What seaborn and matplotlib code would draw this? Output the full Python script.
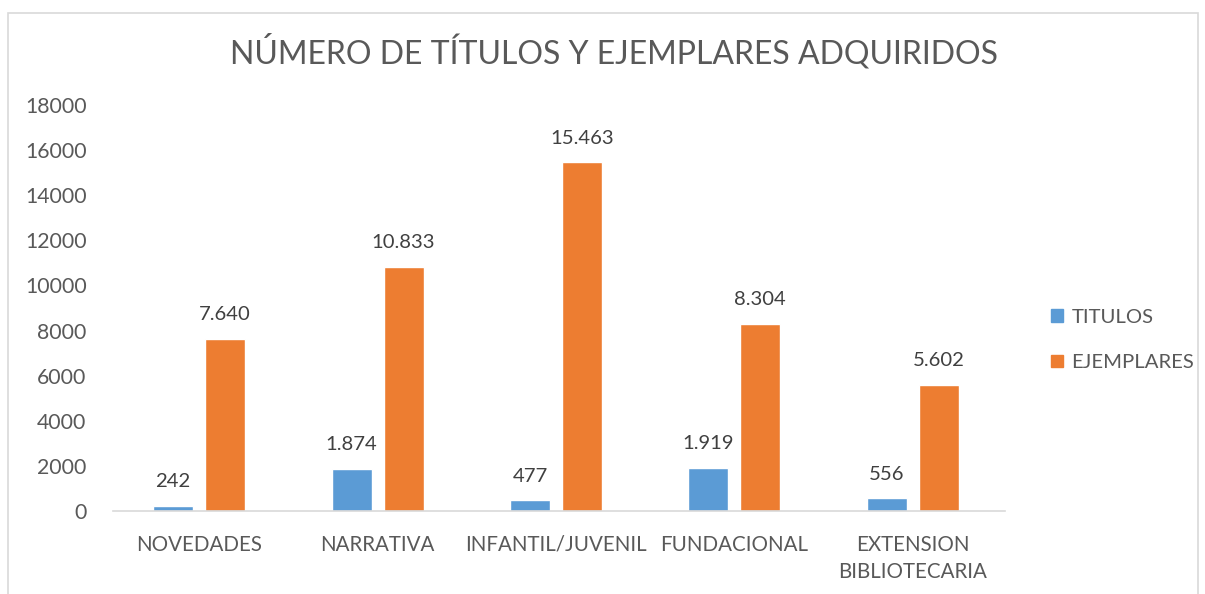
import pandas as pd
import matplotlib.pyplot as plt
import seaborn as sns
from matplotlib.patches import Rectangle, Patch

categorias = ["NOVEDADES", "NARRATIVA", "INFANTIL/JUVENIL", "FUNDACIONAL", "EXTENSION\nBIBLIOTECARIA"]
titulos = [242, 1874, 477, 1919, 556]
ejemplares = [7640, 10833, 15463, 8304, 5602]
series = ["TITULOS", "EJEMPLARES"]
colores = ["#5B9BD5", "#ED7D31"]
gris = "#595959"

df = pd.DataFrame({
    "categoria": categorias * 2,
    "serie": [series[0]] * 5 + [series[1]] * 5,
    "valor": titulos + ejemplares,
})

sns.set_style("white")
plt.rcParams["font.family"] = ["Lato", "DejaVu Sans"]

fig = plt.figure(figsize=(12.05, 5.94), dpi=100)
fig.patches.append(Rectangle((8 / 1205, -0.1), 1190 / 1205, 1.1 - 13 / 594,
                             transform=fig.transFigure, fill=False,
                             edgecolor="#d9d9d9", linewidth=1.2))

ax = fig.add_axes([113 / 1205, 83 / 594, 892 / 1205, 406 / 594])
sns.barplot(data=df, x="categoria", y="valor", hue="serie", palette=colores,
            width=0.583, gap=0.23, ax=ax, legend=False, saturation=1)

for cont in ax.containers:
    labels = [f"{int(b.get_height()):,}".replace(",", ".") for b in cont]
    ax.bar_label(cont, labels=labels, padding=11, fontsize=14.6, color="#404040")

ax.set_xlim(-0.483, 4.517)
ax.set_ylim(0, 18000)
ax.set_yticks(range(0, 18001, 2000))
ax.set_xlabel("")
ax.set_ylabel("")
ax.tick_params(axis="both", length=0, labelcolor=gris)
ax.tick_params(axis="x", pad=17, labelsize=14.8)
ax.tick_params(axis="y", pad=19, labelsize=15.3)
for lbl in ax.get_xticklabels():
    lbl.set_linespacing(1.45)
for s in ["top", "right", "left"]:
    ax.spines[s].set_visible(False)
ax.spines["bottom"].set_color("#d9d9d9")
ax.spines["bottom"].set_linewidth(1.2)

fig.text(614 / 1205, 1 - 52 / 594, "NÚMERO DE TÍTULOS Y EJEMPLARES ADQUIRIDOS",
         ha="center", va="center", fontsize=23, color=gris)

handles = [Patch(facecolor=c, edgecolor=c) for c in colores]
fig.legend(handles, series, loc="center left", bbox_to_anchor=(1033 / 1205, 1 - 340 / 594),
           frameon=False, fontsize=14.6, labelcolor=gris, handlelength=0.6,
           handleheight=0.6, handletextpad=0.4, labelspacing=1.4)

fig.savefig("out.png", dpi=100)
